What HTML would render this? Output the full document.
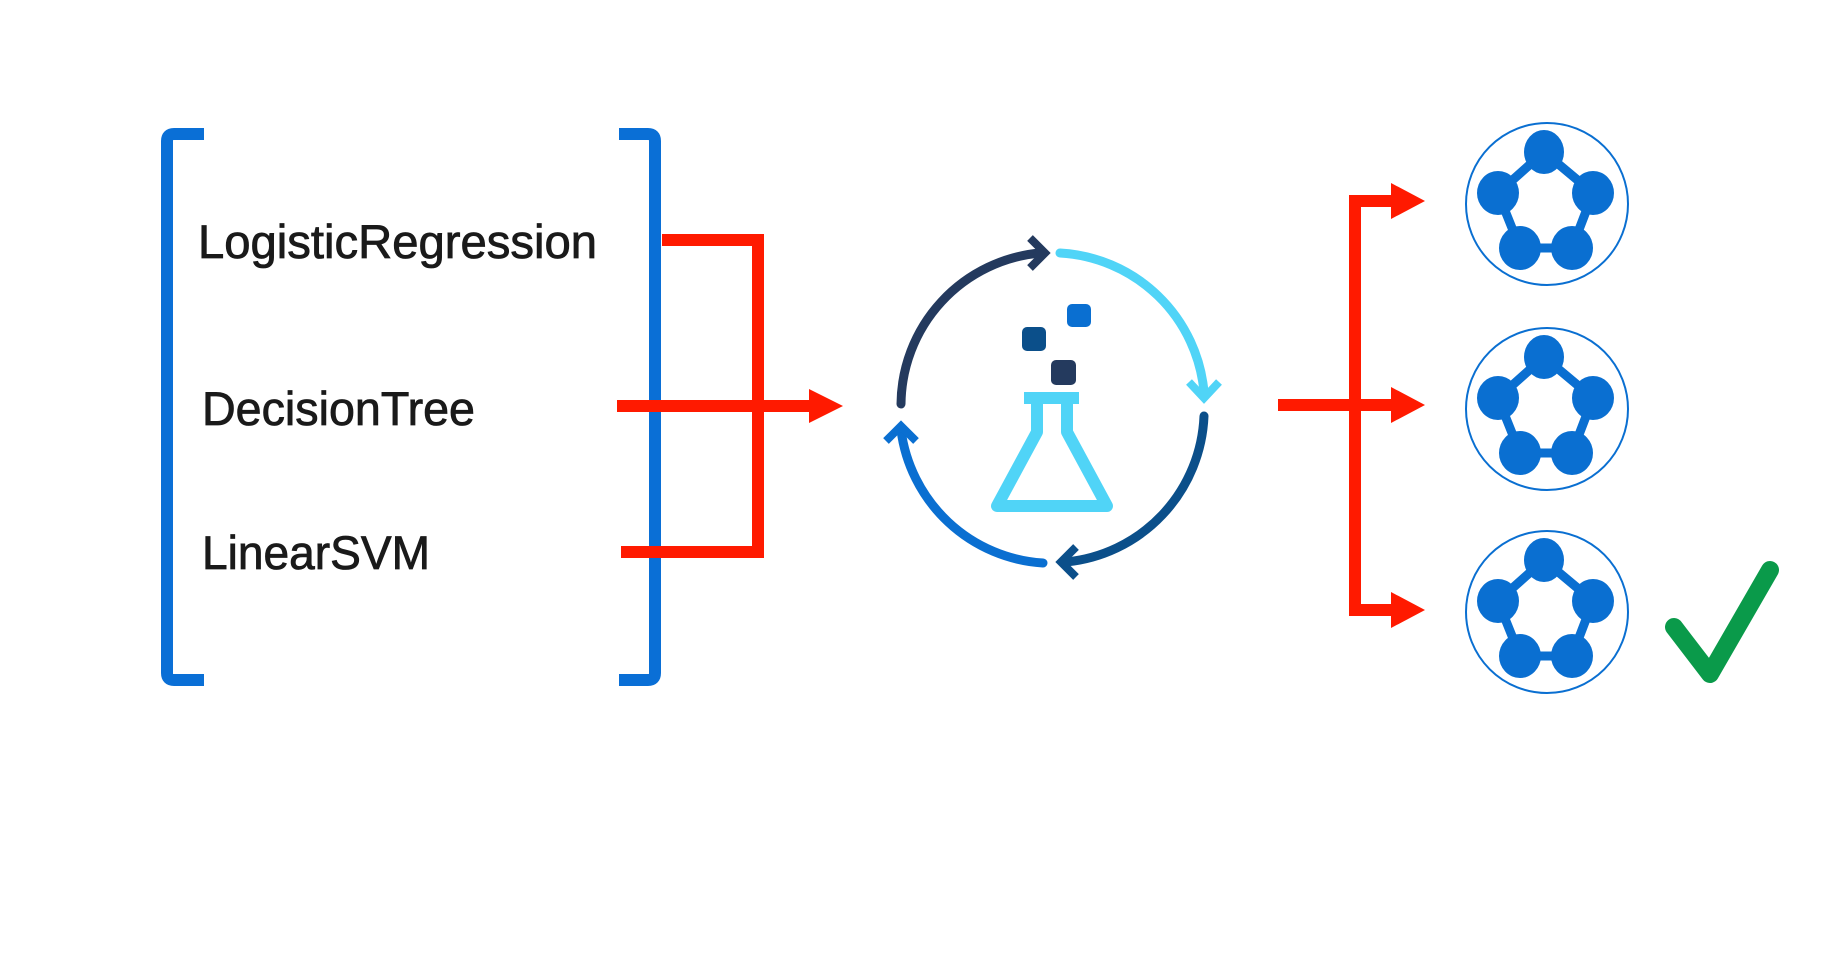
<!DOCTYPE html>
<html><head><meta charset="utf-8"><style>
html,body{margin:0;padding:0;background:#fff;}
svg{display:block;}
</style></head><body>
<svg width="1840" height="958" viewBox="0 0 1840 958" xmlns="http://www.w3.org/2000/svg">
<rect width="1840" height="958" fill="#fff"/>
<!-- brackets -->
<path d="M204 134 H174 Q167 134 167 141 V673 Q167 680 174 680 H204" fill="none" stroke="#0a6fd6" stroke-width="12"/>
<path d="M619 134 H648 Q655 134 655 141 V673 Q655 680 648 680 H619" fill="none" stroke="#0a6fd6" stroke-width="12"/>
<!-- texts -->
<g font-family="Liberation Sans, sans-serif" font-size="47" fill="#1a1a1a" stroke="#1a1a1a" stroke-width="0.8">
<text x="198" y="258" textLength="399" lengthAdjust="spacingAndGlyphs">LogisticRegression</text>
<text x="202" y="425" textLength="273" lengthAdjust="spacingAndGlyphs">DecisionTree</text>
<text x="202" y="569" textLength="228" lengthAdjust="spacingAndGlyphs">LinearSVM</text>
</g>
<!-- red connectors left -->
<g stroke="#ff1a00" stroke-width="12" fill="none">
<path d="M662 240 H758 V552 H621"/>
<path d="M617 406 H812"/>
</g>
<polygon points="809,389 843,406 809,423" fill="#ff1a00"/>
<!-- cycle -->
<g fill="none" stroke-width="9" stroke-linecap="round">
<path d="M901 404 A153 153 0 0 1 1040 253" stroke="#243a5e"/>
<path d="M1060 253 A153 153 0 0 1 1204 392" stroke="#50d4f7"/>
<path d="M1204 416 A153 153 0 0 1 1066 562" stroke="#0b4f8a"/>
<path d="M1043 563 A153 153 0 0 1 901 430" stroke="#0a6fd1"/>
</g>
<g fill="none" stroke-width="8" stroke-linecap="butt" stroke-linejoin="miter">
<path d="M1030 238 L1045 253 L1030 268" stroke="#243a5e"/>
<path d="M1189 382 L1204 398 L1219 382" stroke="#50d4f7"/>
<path d="M1076 547 L1061 562 L1076 577" stroke="#0b4f8a"/>
<path d="M886 441 L901 426 L916 441" stroke="#0a6fd1"/>
</g>
<!-- flask -->
<rect x="1067" y="304" width="24" height="23" rx="5" fill="#0a6fd1"/>
<rect x="1022" y="327" width="24" height="24" rx="5" fill="#0b4f8a"/>
<rect x="1051" y="360" width="25" height="25" rx="5" fill="#243a5e"/>
<path d="M1024 398 H1079 M1037 398 V432 L997 506 H1107 L1067 432 V398" fill="none" stroke="#50d4f7" stroke-width="12" stroke-linejoin="round"/>
<!-- red right -->
<g stroke="#ff1a00" stroke-width="12" fill="none">
<path d="M1278 405 H1395"/>
<path d="M1395 201 H1355 V610 H1395"/>
</g>
<g fill="#ff1a00">
<polygon points="1391,183 1425,201 1391,219"/>
<polygon points="1391,387 1425,405 1391,423"/>
<polygon points="1391,592 1425,610 1391,628"/>
</g>
<!-- model circles -->
<defs>
<g id="m">
<circle cx="0" cy="0" r="81" fill="#fff" stroke="#0a6fd1" stroke-width="2"/>
<polygon points="-3,-52 46,-11 25,44 -27,44 -49,-11" fill="none" stroke="#0a6fd1" stroke-width="9" stroke-linejoin="round"/>
<g fill="#0a6fd1">
<ellipse cx="-3" cy="-52" rx="20" ry="22"/><ellipse cx="46" cy="-11" rx="21" ry="22"/><ellipse cx="25" cy="44" rx="21" ry="22"/><ellipse cx="-27" cy="44" rx="21" ry="22"/><ellipse cx="-49" cy="-11" rx="21" ry="22"/>
</g>
</g>
</defs>
<use href="#m" x="1547" y="204"/>
<use href="#m" x="1547" y="409"/>
<use href="#m" x="1547" y="612"/>
<!-- check -->
<path d="M1674 627 L1710 674 L1770 570" fill="none" stroke="#0a9a4a" stroke-width="18" stroke-linecap="round" stroke-linejoin="round"/>
</svg>
</body></html>
